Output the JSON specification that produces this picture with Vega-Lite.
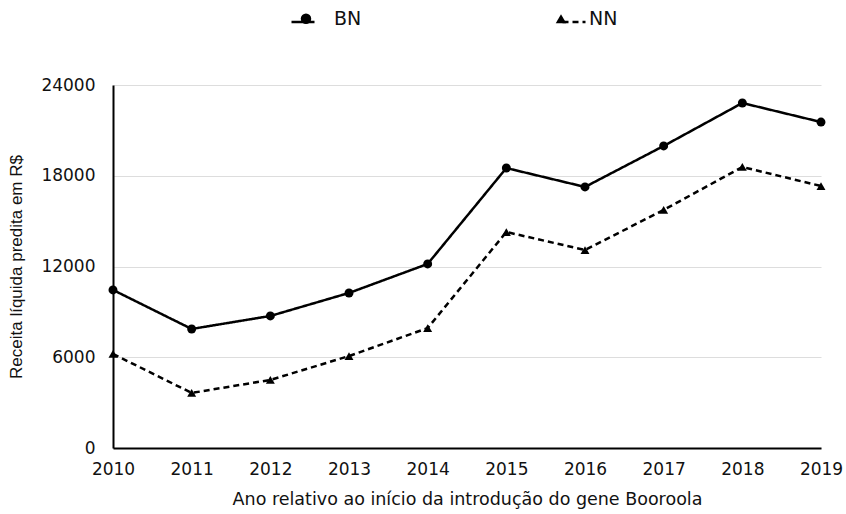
{
  "$schema": "https://vega.github.io/schema/vega-lite/v6.json",
  "autosize": "none",
  "width": 708,
  "height": 363,
  "padding": {"left": 113, "top": 85, "right": 25, "bottom": 66},
  "background": "white",
  "config": {
    "font": "DejaVu Sans",
    "view": {"stroke": null}
  },
  "data": {
    "values": [
      {"ano": 2010, "grupo": "BN", "receita": 10450},
      {"ano": 2011, "grupo": "BN", "receita": 7870},
      {"ano": 2012, "grupo": "BN", "receita": 8730},
      {"ano": 2013, "grupo": "BN", "receita": 10250},
      {"ano": 2014, "grupo": "BN", "receita": 12170},
      {"ano": 2015, "grupo": "BN", "receita": 18510},
      {"ano": 2016, "grupo": "BN", "receita": 17260},
      {"ano": 2017, "grupo": "BN", "receita": 19970},
      {"ano": 2018, "grupo": "BN", "receita": 22810},
      {"ano": 2019, "grupo": "BN", "receita": 21550},
      {"ano": 2010, "grupo": "NN", "receita": 6220},
      {"ano": 2011, "grupo": "NN", "receita": 3640},
      {"ano": 2012, "grupo": "NN", "receita": 4500},
      {"ano": 2013, "grupo": "NN", "receita": 6080},
      {"ano": 2014, "grupo": "NN", "receita": 7930},
      {"ano": 2015, "grupo": "NN", "receita": 14280},
      {"ano": 2016, "grupo": "NN", "receita": 13090},
      {"ano": 2017, "grupo": "NN", "receita": 15740},
      {"ano": 2018, "grupo": "NN", "receita": 18580},
      {"ano": 2019, "grupo": "NN", "receita": 17320}
    ]
  },
  "encoding": {
    "x": {
      "field": "ano", "type": "quantitative",
      "scale": {"domain": [2010, 2019], "nice": false, "zero": false},
      "axis": {
        "title": "Ano relativo ao início da introdução do gene Booroola",
        "values": [2010, 2011, 2012, 2013, 2014, 2015, 2016, 2017, 2018, 2019],
        "format": "d", "grid": false, "ticks": false, "labelFlush": false,
        "domainColor": "black", "domainWidth": 2,
        "labelFont": "DejaVu Sans", "labelFontSize": 17, "labelColor": "#111111", "labelPadding": 13,
        "titleFont": "DejaVu Sans", "titleFontSize": 17.5, "titleFontWeight": "normal", "titleColor": "#111111", "titlePadding": 13
      }
    },
    "y": {
      "field": "receita", "type": "quantitative",
      "scale": {"domain": [0, 24000], "nice": false},
      "axis": {
        "title": "Receita líquida predita em R$",
        "values": [0, 6000, 12000, 18000, 24000],
        "format": "d",
        "grid": true, "gridColor": "#dddddd", "ticks": false,
        "domainColor": "black", "domainWidth": 2,
        "labelFont": "DejaVu Sans", "labelFontSize": 17, "labelColor": "#111111", "labelPadding": 18,
        "titleFont": "Liberation Sans", "titleFontSize": 17, "titleFontWeight": "normal", "titleColor": "#111111", "titlePadding": 15
      }
    }
  },
  "layer": [
    {
      "mark": {"type": "line", "color": "black", "strokeWidth": 2.5},
      "encoding": {
        "strokeDash": {
          "field": "grupo", "type": "nominal",
          "scale": {"range": [[1, 0], [6, 4]]},
          "legend": {
            "title": null, "orient": "none", "direction": "horizontal",
            "legendX": 177, "legendY": -76,
            "labelExpr": "''", "labelFontSize": 1,
            "symbolSize": 529, "symbolStrokeWidth": 2.5, "symbolStrokeColor": "black",
            "columnPadding": 237, "labelOffset": 0
          }
        }
      }
    },
    {
      "mark": {"type": "point", "filled": true, "color": "black", "opacity": 1},
      "encoding": {
        "shape": {
          "field": "grupo", "type": "nominal",
          "scale": {"domain": ["BN", "NN"], "range": ["circle", "triangle-up"]},
          "legend": {
            "title": null, "orient": "none", "direction": "horizontal",
            "legendX": 183.5, "legendY": -76,
            "labelFont": "DejaVu Sans", "labelFontSize": 19, "labelColor": "#111111",
            "symbolSize": 110, "symbolFillColor": "black", "symbolStrokeColor": "black", "symbolOpacity": 1,
            "columnPadding": 190, "labelOffset": 18.5
          }
        },
        "size": {"value": 80}
      }
    }
  ]
}
